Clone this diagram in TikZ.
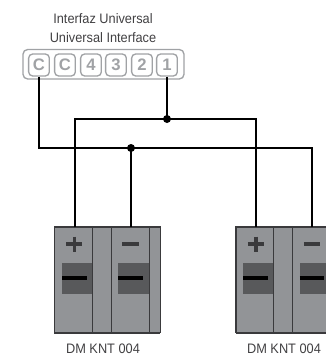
\documentclass[tikz,border=0pt]{standalone}
\usepackage{fontspec}
\setmainfont{Liberation Sans}
\definecolor{bodygray}{HTML}{929497}
\definecolor{darkgray}{HTML}{58595B}
\definecolor{edgegray}{HTML}{3A3A3C}
\definecolor{termgray}{HTML}{A0A2A5}
\definecolor{textgray}{HTML}{414042}
\tikzset{
  caption/.style={font=\fontsize{10.3}{11}\selectfont, text=textgray, inner sep=0pt, anchor=center, xscale=0.93},
  terminal/.style={draw=termgray, line width=1pt, rounded corners=3pt, minimum width=15.5pt, minimum height=16.5pt, inner sep=0pt, text=termgray, font=\fontsize{12.5}{13}\selectfont\bfseries},
  wire/.style={line width=1.5pt, black},
  junction/.style={circle, fill=black, inner sep=0pt, minimum size=6pt},
  sep/.style={line width=1pt, edgegray},
  bar/.style={line width=3pt, black},
  sign/.style={line width=2.3pt, edgegray},
}
\begin{document}
\begin{tikzpicture}[x=0.75pt,y=-0.75pt]
\useasboundingbox (0,0) rectangle (326,355);
\clip (0,0) rectangle (326,355);
\node[caption] (t1) at (103,19) {Interfaz Universal};
\node[caption] (t2) at (103,38) {Universal Interface};
\draw[termgray, line width=1pt, rounded corners=3.5pt] (23,49.5) rectangle (184,79);
\node[terminal] (c1) at (39,65) {C};
\node[terminal] (c2) at (65,65) {C};
\node[terminal] (n4) at (91,65) {4};
\node[terminal] (n3) at (116,65) {3};
\node[terminal] (n2) at (142,65) {2};
\node[terminal] (n1) at (167,65) {1};
% left block
\fill[bodygray] (54.5,227) rectangle (160.5,333);
\draw[edgegray, line width=0.8pt] (54.5,333) -- (54.5,227) -- (160.5,227) -- (160.5,333);
\draw[edgegray, line width=1.3pt] (54.5,333) -- (160.5,333);
\foreach \x in {92.5,111.5,149.5} \draw[sep] (\x,227) -- (\x,333);
\fill[darkgray] (62,263) rectangle (92.5,293.5);
\fill[darkgray] (118,263) rectangle (149,293.5);
\draw[bar] (62.5,278) -- (87,278);
\draw[bar] (118.5,278) -- (143,278);
\draw[sign] (66.5,244) -- (82.5,244);
\draw[sign] (74.5,236.5) -- (74.5,252);
\draw[sign] (122.5,244) -- (139,244);
% right block
\fill[bodygray] (236,227) rectangle (330,333);
\draw[edgegray, line width=0.8pt] (236,333) -- (236,227) -- (330,227);
\draw[edgegray, line width=1.3pt] (236,333) -- (330,333);
\foreach \x in {273.5,292.5} \draw[sep] (\x,227) -- (\x,333);
\fill[darkgray] (243,263) rectangle (273.5,293.5);
\fill[darkgray] (300,263) rectangle (330,293.5);
\draw[bar] (243.5,278) -- (268,278);
\draw[bar] (300,278) -- (324,278);
\draw[sign] (248,244) -- (264,244);
\draw[sign] (256,236.5) -- (256,252);
\draw[sign] (304,244) -- (320.5,244);
% wires
\coordinate (pa) at (75,227);
\coordinate (ma) at (131,227);
\coordinate (pb) at (256,227);
\coordinate (mb) at (312,227);
\node[junction] (j1) at (167,119) {};
\node[junction] (j2) at (131,148) {};
\draw[wire] (c1.south) -- (39,148) -- (j2.center) -- (312,148) -- (mb);
\draw[wire] (j2.center) -- (ma);
\draw[wire] (n1.south) -- (j1.center);
\draw[wire] (pa) -- (75,119) -- (256,119) -- (pb);
\node[caption] (l1) at (103,348.5) {DM KNT 004};
\node[caption] (l2) at (284,348.5) {DM KNT 004};
\end{tikzpicture}
\end{document}
